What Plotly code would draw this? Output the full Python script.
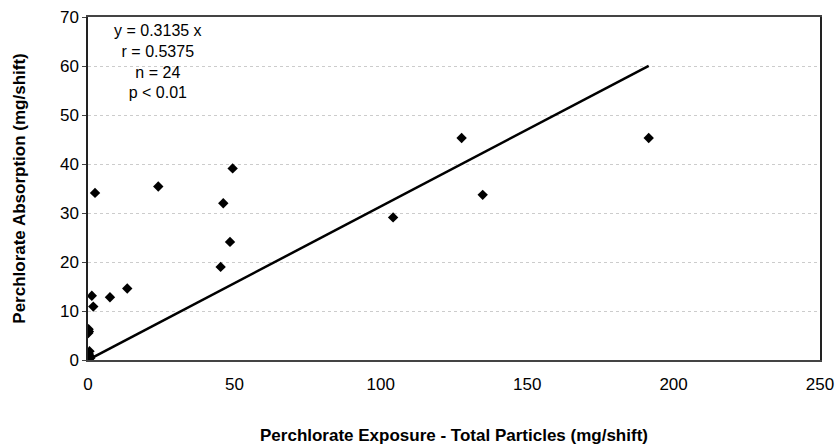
"""
Perchlorate absorption vs exposure (total particles) scatter with fitted line.
"""
import plotly.graph_objects as go

# === Data ===
exposure = [
    2.4, 24.0, 1.3, 7.5, 13.4, 1.8, 49.4, 46.2, 48.5, 45.3,
    127.6, 134.8, 104.2, 191.5,
    0.2, 0.3, 0.1, 0.5, 0.3, 0.6, 0.2, 0.4, 0.1, 0.8,
]
absorption = [
    34.1, 35.4, 13.1, 12.8, 14.6, 10.9, 39.1, 32.0, 24.1, 19.0,
    45.3, 33.7, 29.1, 45.3,
    6.3, 5.8, 5.5, 1.8, 1.2, 0.8, 0.5, 0.3, 0.1, 0.4,
]
slope = 0.3135
fit_x = [0, 191.5]
fit_y = [slope * v for v in fit_x]

x_ticks = [0, 50, 100, 150, 200, 250]
y_ticks = [0, 10, 20, 30, 40, 50, 60, 70]
stats_lines = ["y = 0.3135 x", "r = 0.5375", "n = 24", "p < 0.01"]

fig = go.Figure()

# === Regression line ===
fig.add_trace(
    go.Scatter(
        x=fit_x,
        y=fit_y,
        mode="lines",
        line=dict(color="black", width=2.5),
        showlegend=False,
        hoverinfo="skip",
    )
)

# === Points ===
fig.add_trace(
    go.Scatter(
        x=exposure,
        y=absorption,
        mode="markers",
        marker=dict(symbol="diamond", size=8, color="black"),
        showlegend=False,
    )
)

# === Stats text ===
fig.add_annotation(
    x=24, y=70, xref="x", yref="y",
    text="<br>".join(stats_lines),
    showarrow=False,
    xanchor="center", yanchor="top",
    align="center",
    yshift=-3,
    font=dict(family="Liberation Sans, Arial, sans-serif", size=16, color="black"),
)

fig.update_layout(
    width=839,
    height=446,
    margin=dict(l=88, r=19, t=17, b=86),
    plot_bgcolor="white",
    paper_bgcolor="white",
    font=dict(family="Liberation Sans, Arial, sans-serif", size=17, color="black"),
)

fig.update_xaxes(
    range=[0, 250],
    tickvals=x_ticks,
    showgrid=False,
    zeroline=False,
    showline=True,
    linecolor="#444444",
    linewidth=1.5,
    mirror=True,
    ticks="",
    ticklabelstandoff=8,
    automargin=False,
    title=dict(
        text="<b>Perchlorate Exposure - Total Particles (mg/shift)</b>",
        font=dict(size=17),
        standoff=36,
    ),
)

fig.update_yaxes(
    range=[0, 70],
    tickvals=y_ticks,
    showgrid=True,
    gridcolor="#cccccc",
    griddash="dot",
    gridwidth=1,
    zeroline=False,
    showline=True,
    linecolor="#222222",
    linewidth=1.5,
    mirror=True,
    ticks="outside",
    ticklen=4,
    tickcolor="#444444",
    automargin=False,
    title=dict(
        text="<b>Perchlorate Absorption (mg/shift)</b>",
        font=dict(size=17),
        standoff=30,
    ),
)

# drop the default 8px page margin so the figure fills the window exactly
fig.write_html(
    "out.html",
    config={"displayModeBar": False},
    post_script="document.body.style.margin='0';document.body.style.overflow='hidden';",
)
